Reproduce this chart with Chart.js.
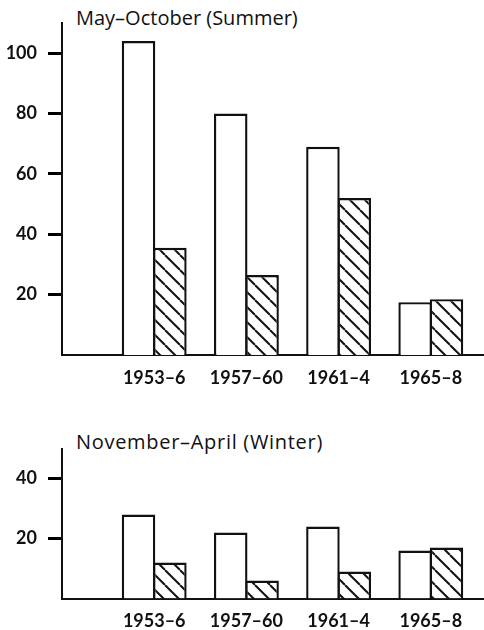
<!DOCTYPE html>
<html>
<head>
<meta charset="utf-8">
<script src="https://cdn.jsdelivr.net/npm/chart.js@4/dist/chart.umd.min.js"></script>
<style>
  html, body { margin: 0; padding: 0; background: #fff; width: 484px; height: 630px; overflow: hidden; }
  .panel { position: absolute; left: 0; }
  .title { position: absolute; left: 76px; font-family: 'Open Sans', sans-serif; font-size: 20px; color: #111; white-space: nowrap; line-height: 1; }
</style>
</head>
<body>
<div class="title" style="top:8px">May–October (Summer)</div>
<canvas id="summer" class="panel" style="top:0" width="535" height="400"></canvas>
<div class="title" style="top:432px; letter-spacing:0.7px">November–April (Winter)</div>
<canvas id="winter" class="panel" style="top:420px" width="535" height="210"></canvas>
<script>
// categories, with an empty slot either side so the groups sit where the original put them
const periods = ['1953–6', '1957–60', '1961–4', '1965–8'];
const summerOpen = [104, 80, 69, 17.5];
const summerHatched = [35.5, 26.5, 52, 18.5];
const winterOpen = [28, 22, 24, 16];
const winterHatched = [12, 6, 9, 17];
const summerTicks = [20, 40, 60, 80, 100];
const winterTicks = [20, 40];

const ink = '#111';
const tickInk = '#000';
Chart.defaults.font.family = 'Lato, sans-serif';
Chart.defaults.color = ink;

function hatch() {
  const s = 15;
  const c = document.createElement('canvas');
  c.width = s; c.height = s;
  const g = c.getContext('2d');
  g.fillStyle = '#fff';
  g.fillRect(0, 0, s, s);
  g.strokeStyle = ink;
  g.lineWidth = 2;
  for (let k = -1; k <= 1; k++) {
    g.beginPath();
    g.moveTo(k * s, 0);
    g.lineTo(k * s + s, s);
    g.stroke();
  }
  return g.createPattern(c, 'repeat');
}

const pad = (arr) => [null, ...arr, null];

function makeChart(id, open, hatched, yMax, ticks, topPad, xHeight) {
  return new Chart(document.getElementById(id), {
    type: 'bar',
    data: {
      labels: ['', ...periods, ''],
      datasets: [
        { data: pad(open), backgroundColor: '#fff', borderColor: ink, borderWidth: 2.4, borderSkipped: 'bottom' },
        { data: pad(hatched), backgroundColor: hatch(), borderColor: ink, borderWidth: 2.4, borderSkipped: 'bottom' },
      ],
    },
    options: {
      responsive: false, animation: false,
      layout: { padding: { top: topPad, left: 0, right: 0, bottom: 0 } },
      categoryPercentage: 0.68, barPercentage: 1.07,
      plugins: { legend: { display: false }, tooltip: { enabled: false } },
      scales: {
        x: {
          offset: false,
          grid: { display: false, drawTicks: false },
          border: { display: true, color: ink, width: 2 },
          ticks: { padding: 12, font: { size: 18, weight: 'bold' }, color: ink, autoSkip: false, maxRotation: 0 },
          afterFit: (s) => { s.height = xHeight; },
        },
        y: {
          min: 0, max: yMax,
          grid: { display: true, drawOnChartArea: false, drawTicks: true, tickLength: 14, color: tickInk, tickColor: tickInk, tickWidth: 3 },
          border: { display: true, color: ink, width: 2 },
          ticks: { padding: 11, font: { size: 18, weight: 'bold' }, color: ink },
          // only the labelled values are kept, as in the original
          afterBuildTicks: (s) => { s.ticks = ticks.map((v) => ({ value: v })); },
          afterFit: (s) => { s.width = 62; },
        },
      },
    },
  });
}

makeChart('summer', summerOpen, summerHatched, 110, summerTicks, 23, 45);
makeChart('winter', winterOpen, winterHatched, 50, winterTicks, 28.5, 31.5);
</script>
</body>
</html>
